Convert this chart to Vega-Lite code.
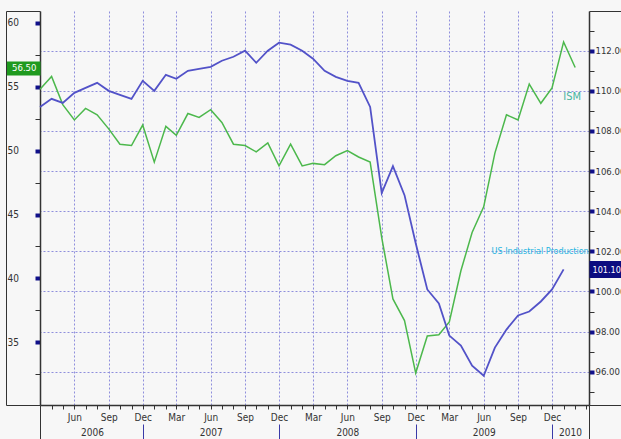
{
  "$schema": "https://vega.github.io/schema/vega-lite/v6.json",
  "width": 549,
  "height": 394,
  "autosize": "none",
  "padding": {"left": 40, "top": 11, "right": 32, "bottom": 34},
  "background": "#f7f7f7",
  "config": {
    "view": {"stroke": null},
    "font": "DejaVu Sans Condensed, Liberation Sans Narrow, sans-serif",
    "axis": {"labelFont": "DejaVu Sans Condensed, Liberation Sans Narrow, sans-serif", "labelFontSize": 10, "labelColor": "#333333", "labelFlush": false, "labelOverlap": false, "labelBound": false, "title": null}
  },
  "data": {"values": [
    {"date": "2006-03-01", "ism": 54.8, "ip": 109.2},
    {"date": "2006-04-01", "ism": 55.8, "ip": 109.6},
    {"date": "2006-05-01", "ism": 53.6, "ip": 109.4},
    {"date": "2006-06-01", "ism": 52.4, "ip": 109.9},
    {"date": "2006-07-01", "ism": 53.3, "ip": 110.15},
    {"date": "2006-08-01", "ism": 52.8, "ip": 110.4},
    {"date": "2006-09-01", "ism": 51.7, "ip": 110.0},
    {"date": "2006-10-01", "ism": 50.5, "ip": 109.8},
    {"date": "2006-11-01", "ism": 50.4, "ip": 109.6},
    {"date": "2006-12-01", "ism": 52.0, "ip": 110.5},
    {"date": "2007-01-01", "ism": 49.1, "ip": 110.0},
    {"date": "2007-02-01", "ism": 51.9, "ip": 110.8},
    {"date": "2007-03-01", "ism": 51.2, "ip": 110.6},
    {"date": "2007-04-01", "ism": 52.9, "ip": 111.0},
    {"date": "2007-05-01", "ism": 52.6, "ip": 111.1},
    {"date": "2007-06-01", "ism": 53.2, "ip": 111.2},
    {"date": "2007-07-01", "ism": 52.2, "ip": 111.5},
    {"date": "2007-08-01", "ism": 50.5, "ip": 111.7},
    {"date": "2007-09-01", "ism": 50.4, "ip": 112.0},
    {"date": "2007-10-01", "ism": 49.9, "ip": 111.4},
    {"date": "2007-11-01", "ism": 50.6, "ip": 112.0},
    {"date": "2007-12-01", "ism": 48.8, "ip": 112.4},
    {"date": "2008-01-01", "ism": 50.5, "ip": 112.3},
    {"date": "2008-02-01", "ism": 48.8, "ip": 112.0},
    {"date": "2008-03-01", "ism": 49.0, "ip": 111.6},
    {"date": "2008-04-01", "ism": 48.9, "ip": 111.0},
    {"date": "2008-05-01", "ism": 49.6, "ip": 110.7},
    {"date": "2008-06-01", "ism": 50.0, "ip": 110.5},
    {"date": "2008-07-01", "ism": 49.5, "ip": 110.4},
    {"date": "2008-08-01", "ism": 49.1, "ip": 109.2},
    {"date": "2008-09-01", "ism": 43.2, "ip": 104.9},
    {"date": "2008-10-01", "ism": 38.4, "ip": 106.25},
    {"date": "2008-11-01", "ism": 36.7, "ip": 104.8},
    {"date": "2008-12-01", "ism": 32.6, "ip": 102.4},
    {"date": "2009-01-01", "ism": 35.5, "ip": 100.1},
    {"date": "2009-02-01", "ism": 35.6, "ip": 99.4},
    {"date": "2009-03-01", "ism": 36.6, "ip": 97.8},
    {"date": "2009-04-01", "ism": 40.6, "ip": 97.3},
    {"date": "2009-05-01", "ism": 43.6, "ip": 96.3},
    {"date": "2009-06-01", "ism": 45.6, "ip": 95.8},
    {"date": "2009-07-01", "ism": 49.8, "ip": 97.2},
    {"date": "2009-08-01", "ism": 52.8, "ip": 98.1},
    {"date": "2009-09-01", "ism": 52.4, "ip": 98.8},
    {"date": "2009-10-01", "ism": 55.2, "ip": 99.0},
    {"date": "2009-11-01", "ism": 53.7, "ip": 99.5},
    {"date": "2009-12-01", "ism": 54.9, "ip": 100.1},
    {"date": "2010-01-01", "ism": 58.5, "ip": 101.1},
    {"date": "2010-02-01", "ism": 56.5, "ip": null}
  ]},
  "resolve": {"scale": {"y": "independent"}, "axis": {"x": "independent", "y": "independent"}},
  "layer": [
    {
      "resolve": {"axis": {"x": "independent", "y": "independent"}},
      "layer": [
        {
          "mark": {"type": "line", "color": "#4cb84c", "strokeWidth": 1.5},
          "encoding": {
            "x": {"field": "date", "type": "temporal",
              "scale": {"type": "utc", "domain": [{"year": 2006, "month": 3, "date": 1, "utc": true}, {"year": 2010, "month": 3, "date": 10, "utc": true}]},
              "axis": {
                "orient": "bottom",
                "values": [
                  {"year": 2006, "month": 3, "date": 1, "utc": true}, {"year": 2006, "month": 4, "date": 1, "utc": true}, {"year": 2006, "month": 5, "date": 1, "utc": true}, {"year": 2006, "month": 6, "date": 1, "utc": true}, {"year": 2006, "month": 7, "date": 1, "utc": true}, {"year": 2006, "month": 8, "date": 1, "utc": true}, {"year": 2006, "month": 9, "date": 1, "utc": true}, {"year": 2006, "month": 10, "date": 1, "utc": true}, {"year": 2006, "month": 11, "date": 1, "utc": true}, {"year": 2006, "month": 12, "date": 1, "utc": true},
                  {"year": 2007, "month": 1, "date": 1, "utc": true}, {"year": 2007, "month": 2, "date": 1, "utc": true}, {"year": 2007, "month": 3, "date": 1, "utc": true}, {"year": 2007, "month": 4, "date": 1, "utc": true}, {"year": 2007, "month": 5, "date": 1, "utc": true}, {"year": 2007, "month": 6, "date": 1, "utc": true}, {"year": 2007, "month": 7, "date": 1, "utc": true}, {"year": 2007, "month": 8, "date": 1, "utc": true}, {"year": 2007, "month": 9, "date": 1, "utc": true}, {"year": 2007, "month": 10, "date": 1, "utc": true}, {"year": 2007, "month": 11, "date": 1, "utc": true}, {"year": 2007, "month": 12, "date": 1, "utc": true},
                  {"year": 2008, "month": 1, "date": 1, "utc": true}, {"year": 2008, "month": 2, "date": 1, "utc": true}, {"year": 2008, "month": 3, "date": 1, "utc": true}, {"year": 2008, "month": 4, "date": 1, "utc": true}, {"year": 2008, "month": 5, "date": 1, "utc": true}, {"year": 2008, "month": 6, "date": 1, "utc": true}, {"year": 2008, "month": 7, "date": 1, "utc": true}, {"year": 2008, "month": 8, "date": 1, "utc": true}, {"year": 2008, "month": 9, "date": 1, "utc": true}, {"year": 2008, "month": 10, "date": 1, "utc": true}, {"year": 2008, "month": 11, "date": 1, "utc": true}, {"year": 2008, "month": 12, "date": 1, "utc": true},
                  {"year": 2009, "month": 1, "date": 1, "utc": true}, {"year": 2009, "month": 2, "date": 1, "utc": true}, {"year": 2009, "month": 3, "date": 1, "utc": true}, {"year": 2009, "month": 4, "date": 1, "utc": true}, {"year": 2009, "month": 5, "date": 1, "utc": true}, {"year": 2009, "month": 6, "date": 1, "utc": true}, {"year": 2009, "month": 7, "date": 1, "utc": true}, {"year": 2009, "month": 8, "date": 1, "utc": true}, {"year": 2009, "month": 9, "date": 1, "utc": true}, {"year": 2009, "month": 10, "date": 1, "utc": true}, {"year": 2009, "month": 11, "date": 1, "utc": true}, {"year": 2009, "month": 12, "date": 1, "utc": true},
                  {"year": 2010, "month": 1, "date": 1, "utc": true}, {"year": 2010, "month": 2, "date": 1, "utc": true}, {"year": 2010, "month": 3, "date": 1, "utc": true}, {"year": 2010, "month": 3, "date": 10, "utc": true}
                ],
                "labelExpr": "(utcdate(datum.value) == 1 && utcmonth(datum.value) % 3 == 2 && utcyear(datum.value) * 12 + utcmonth(datum.value) > 24074 && utcyear(datum.value) * 12 + utcmonth(datum.value) < 24122) ? utcFormat(datum.value, '%b') : ''",
                "labelPadding": 3,
                "tickSize": {"condition": {"test": "utcdate(datum.value) != 1 || utcyear(datum.value) * 12 + utcmonth(datum.value) == 24074", "value": 34}, "value": 4},
                "tickColor": "#333333",
                "domain": true, "domainColor": "#333333", "domainWidth": 1.5,
                "grid": true, "gridColor": "#8f8fdc", "gridDash": [2, 2], "gridWidth": 1,
                "gridOpacity": {"condition": {"test": "utcdate(datum.value) == 1 && utcmonth(datum.value) % 3 == 2 && utcyear(datum.value) * 12 + utcmonth(datum.value) > 24074 && utcyear(datum.value) * 12 + utcmonth(datum.value) < 24122", "value": 1}, "value": 0}
              }
            },
            "y": {"field": "ism", "type": "quantitative",
              "scale": {"domain": [30.1, 60.92], "nice": false, "zero": false},
              "axis": {
                "orient": "left",
                "values": [32.5, 35, 37.5, 40, 42.5, 45, 47.5, 50, 52.5, 55, 57.5, 60],
                "labelExpr": "datum.value % 5 == 0 ? format(datum.value, 'd') : ''",
                "labelAlign": "left", "labelPadding": 28,
                "tickSize": 5,
                "tickColor": {"condition": {"test": "datum.value % 5 == 0", "value": "#10108a"}, "value": "#333333"},
                "tickWidth": {"condition": {"test": "datum.value % 5 == 0", "value": 4}, "value": 1},
                "domain": true, "domainColor": "#333333", "domainWidth": 1.5,
                "grid": false
              }
            }
          }
        },
        {
          "data": {"values": [{"label": "ISM", "date": "2009-12-31", "value": 54.2}]},
          "mark": {"type": "text", "align": "left", "baseline": "middle", "color": "#48b4a0", "fontSize": 11},
          "encoding": {
            "x": {"field": "date", "type": "temporal",
              "scale": {"type": "utc", "domain": [{"year": 2006, "month": 3, "date": 1, "utc": true}, {"year": 2010, "month": 3, "date": 10, "utc": true}]},
              "axis": {
                "orient": "bottom",
                "values": [{"year": 2006, "month": 7, "date": 18, "utc": true}, {"year": 2007, "month": 6, "date": 1, "utc": true}, {"year": 2008, "month": 6, "date": 1, "utc": true}, {"year": 2009, "month": 6, "date": 1, "utc": true}, {"year": 2010, "month": 1, "date": 18, "utc": true}],
                "labelExpr": "utcFormat(datum.value, '%Y')",
                "ticks": true, "tickSize": 0, "tickOpacity": 0, "labelPadding": 22,
                "domain": false, "grid": false
              }
            },
            "y": {"field": "value", "type": "quantitative",
              "scale": {"domain": [30.1, 60.92], "nice": false, "zero": false},
              "axis": {
                "orient": "left", "offset": 34,
                "values": [30.1, 56.5, 60.92],
                "labelExpr": "datum.value == 56.5 ? '56.50' : ''",
                "labelColor": "#ffffff", "labelAlign": "right", "labelPadding": 4, "labelFontSize": 9.5,
                "tickSize": -34,
                "tickColor": {"condition": {"test": "datum.value == 56.5", "value": "#1f9a1f"}, "value": "#333333"},
                "tickWidth": {"condition": {"test": "datum.value == 56.5", "value": 14}, "value": 1},
                "domain": true, "domainColor": "#333333", "domainWidth": 1,
                "grid": false
              }
            },
            "text": {"field": "label"}
          }
        }
      ]
    },
    {
      "resolve": {"axis": {"x": "independent", "y": "independent"}},
      "layer": [
        {
          "mark": {"type": "line", "color": "#5252c8", "strokeWidth": 1.8},
          "encoding": {
            "x": {"field": "date", "type": "temporal",
              "scale": {"type": "utc", "domain": [{"year": 2006, "month": 3, "date": 1, "utc": true}, {"year": 2010, "month": 3, "date": 10, "utc": true}]},
              "axis": {
                "orient": "bottom", "offset": 19,
                "values": [{"year": 2006, "month": 12, "date": 1, "utc": true}, {"year": 2007, "month": 12, "date": 1, "utc": true}, {"year": 2008, "month": 12, "date": 1, "utc": true}, {"year": 2009, "month": 12, "date": 1, "utc": true}],
                "labels": false, "tickSize": 15, "tickColor": "#3a3aa8", "tickWidth": 1,
                "domain": false, "grid": false
              }
            },
            "y": {"field": "ip", "type": "quantitative",
              "scale": {"domain": [94.34, 113.98], "nice": false, "zero": false},
              "axis": {
                "orient": "right",
                "values": [95, 96, 97, 98, 99, 100, 101, 102, 103, 104, 105, 106, 107, 108, 109, 110, 111, 112, 113],
                "labelExpr": "datum.value % 2 == 0 ? format(datum.value, '.2f') : ''",
                "labelPadding": 1, "labelFontSize": 9.5,
                "tickSize": 5,
                "tickColor": {"condition": {"test": "datum.value % 2 == 0", "value": "#10108a"}, "value": "#333333"},
                "tickWidth": {"condition": {"test": "datum.value % 2 == 0", "value": 4}, "value": 1},
                "domain": true, "domainColor": "#333333", "domainWidth": 1.5,
                "grid": true, "gridColor": "#8f8fdc", "gridDash": [2, 2], "gridWidth": 1,
                "gridOpacity": {"condition": {"test": "datum.value % 2 == 0", "value": 1}, "value": 0}
              }
            }
          }
        },
        {
          "data": {"values": [{"label": "US Industrial Production", "date": "2009-06-22", "value": 102.0}]},
          "mark": {"type": "text", "align": "left", "baseline": "middle", "color": "#25b5e0", "fontSize": 9},
          "encoding": {
            "x": {"field": "date", "type": "temporal",
              "scale": {"type": "utc", "domain": [{"year": 2006, "month": 3, "date": 1, "utc": true}, {"year": 2010, "month": 3, "date": 10, "utc": true}]},
              "axis": null
            },
            "y": {"field": "value", "type": "quantitative",
              "scale": {"domain": [94.34, 113.98], "nice": false, "zero": false},
              "axis": {
                "orient": "right",
                "values": [94.34, 101.1, 113.98],
                "labelExpr": "datum.value == 101.1 ? '101.10' : ''",
                "labelColor": "#ffffff", "labelPadding": -29, "labelFontSize": 9,
                "tickSize": 32,
                "tickColor": {"condition": {"test": "datum.value == 101.1", "value": "#0c0c80"}, "value": "#333333"},
                "tickWidth": {"condition": {"test": "datum.value == 101.1", "value": 17}, "value": 1},
                "domain": false, "grid": false
              }
            },
            "text": {"field": "label"}
          }
        }
      ]
    }
  ]
}
